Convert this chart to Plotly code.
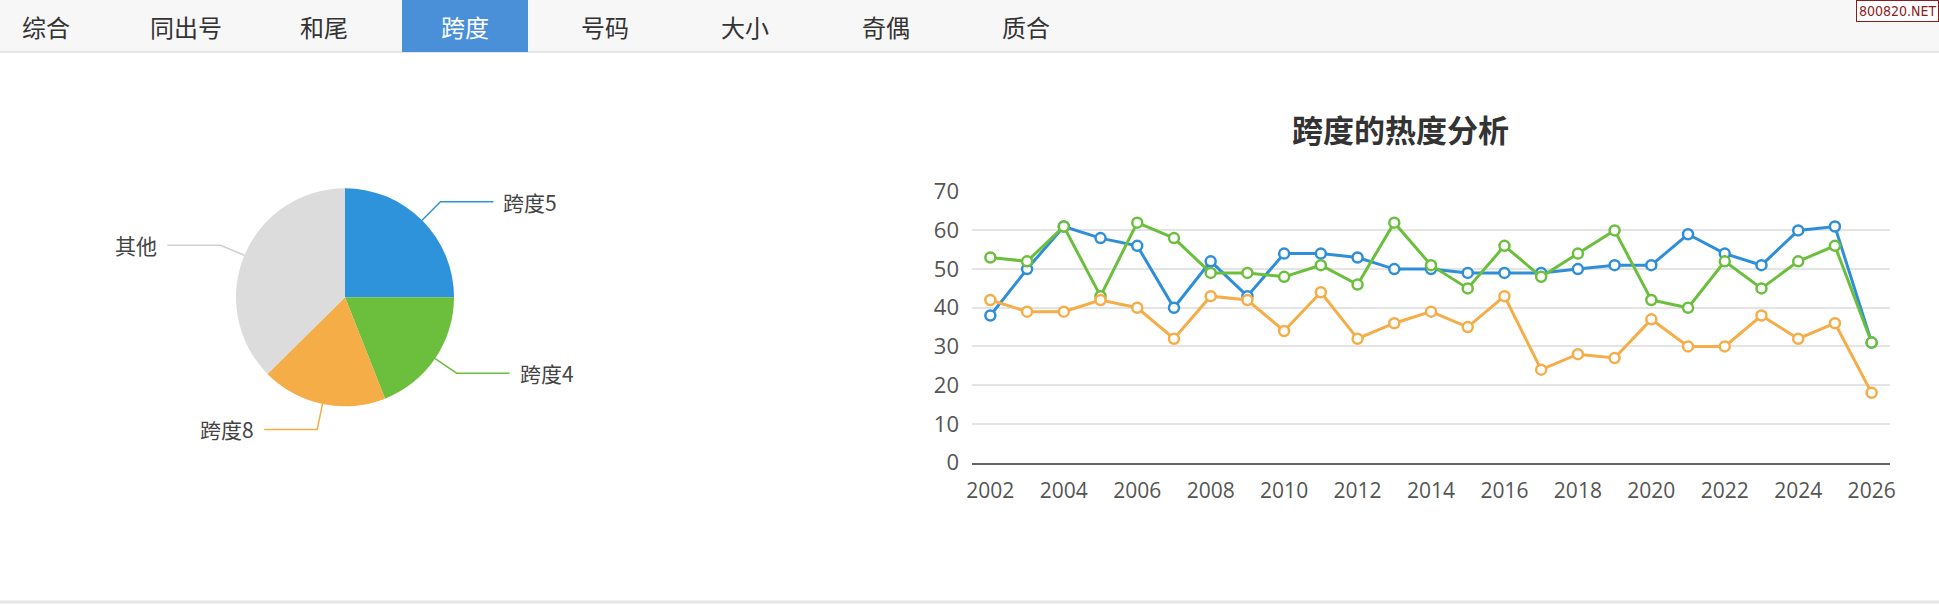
import math
import plotly.graph_objects as go

W, H = 1939, 605

# ---------------- data ----------------
tabs = ["综合", "同出号", "和尾", "跨度", "号码", "大小", "奇偶", "质合"]
active_tab = "跨度"

pie_labels = ["跨度5", "跨度4", "跨度8", "其他"]
pie_values = [25.0, 19.0, 18.6, 37.4]
pie_colors = ["#2e93db", "#6bbf3c", "#f5ad48", "#dcdcdc"]

years = list(range(2002, 2027))
span5 = [38, 50, 61, 58, 56, 40, 52, 43, 54, 54, 53, 50, 50, 49, 49, 49, 50, 51, 51, 59, 54, 51, 60, 61, 31]
span4 = [53, 52, 61, 43, 62, 58, 49, 49, 48, 51, 46, 62, 51, 45, 56, 48, 54, 60, 42, 40, 52, 45, 52, 56, 31]
span8 = [42, 39, 39, 42, 40, 32, 43, 42, 34, 44, 32, 36, 39, 35, 43, 24, 28, 27, 37, 30, 30, 38, 32, 36, 18]
line_names = ["跨度5", "跨度4", "跨度8"]
line_colors = ["#2e8fd8", "#6bbf3c", "#f5ad48"]
xticks = list(range(2002, 2027, 2))
yticks = list(range(0, 71, 10))

title_text = "跨度的热度分析"
watermark = "800820.NET"

# ---------------- helpers ----------------
def px(x):
    return x / W

def py(y):
    return 1 - y / H

FONT = "Noto Sans CJK SC, Open Sans, sans-serif"
NUMFONT = "Open Sans, Noto Sans CJK SC, sans-serif"

fig = go.Figure()

# ---------------- pie ----------------
cx, cy, R = 345.0, 297.3, 109.0
fig.add_trace(go.Pie(
    labels=pie_labels, values=pie_values,
    marker=dict(colors=pie_colors, line=dict(width=0)),
    sort=False, direction="clockwise", rotation=0,
    textinfo="none", hoverinfo="label+percent",
    showlegend=False,
    domain=dict(x=[px(cx - R), px(cx + R)], y=[py(cy + R), py(cy - R)]),
))

shapes = []
annotations = []

# leader lines & labels computed from the slice angles
total = sum(pie_values)
cum = 0.0
L1, L2 = 26.0, 53.0
for lab, val, col in zip(pie_labels, pie_values, pie_colors):
    mid = (cum + val / 2) / total * 2 * math.pi
    cum += val
    sx, sy = math.sin(mid), -math.cos(mid)
    x0, y0 = cx + R * sx, cy + R * sy
    x1, y1 = cx + (R + L1) * sx, cy + (R + L1) * sy
    side = 1 if sx >= 0 else -1
    x2 = x1 + side * L2
    lc = "#d0d0d0" if col == "#dcdcdc" else col
    path = f"M {px(x0)},{py(y0)} L {px(x1)},{py(y1)} L {px(x2)},{py(y1)}"
    shapes.append(dict(type="path", xref="paper", yref="paper", path=path,
                       line=dict(color=lc, width=1.5)))
    annotations.append(dict(
        x=px(x2 + side * 8), y=py(y1), xref="paper", yref="paper",
        text=lab, showarrow=False,
        xanchor="left" if side > 0 else "right", yanchor="middle",
        font=dict(family=FONT, size=21, color="#444444"),
    ))

# ---------------- lines ----------------
for name, vals, col in zip(line_names, [span5, span4, span8], line_colors):
    fig.add_trace(go.Scatter(
        x=years, y=vals, name=name, mode="lines+markers",
        line=dict(color=col, width=3),
        marker=dict(symbol="circle", size=10, color="#ffffff",
                    line=dict(color=col, width=2.5)),
        showlegend=False, xaxis="x", yaxis="y",
    ))

# ---------------- tab bar ----------------
shapes.append(dict(type="rect", xref="paper", yref="paper",
                   x0=0, x1=1, y0=py(51), y1=1,
                   fillcolor="#f7f7f7", line=dict(width=0), layer="below"))
shapes.append(dict(type="line", xref="paper", yref="paper",
                   x0=0, x1=1, y0=py(52), y1=py(52),
                   line=dict(color="#e6e6e6", width=2)))
tab_centers = [46, 186, 324, 465, 605, 745, 886, 1026]
for t, c in zip(tabs, tab_centers):
    if t == active_tab:
        shapes.append(dict(type="rect", xref="paper", yref="paper",
                           x0=px(402), x1=px(528), y0=py(52), y1=1,
                           fillcolor="#4a90d9", line=dict(width=0)))
    annotations.append(dict(
        x=px(c), y=py(27), xref="paper", yref="paper", text=t,
        showarrow=False, xanchor="center", yanchor="middle",
        font=dict(family=FONT, size=24,
                  color="#ffffff" if t == active_tab else "#333333"),
    ))

# watermark
annotations.append(dict(
    x=1, y=1, xref="paper", yref="paper", text=watermark, showarrow=False,
    xanchor="right", yanchor="top",
    font=dict(family="Liberation Sans Narrow, DejaVu Sans Condensed, sans-serif",
              size=14, color="#8b1c1c"),
    bgcolor="#ffffff", bordercolor="#8b1c1c", borderwidth=1, borderpad=2,
))

# title
annotations.append(dict(
    x=px(1400), y=py(128), xref="paper", yref="paper",
    text="<b>" + title_text + "</b>", showarrow=False,
    xanchor="center", yanchor="middle",
    font=dict(family=FONT, size=31, color="#333333"),
))

# bottom border
shapes.append(dict(type="line", xref="paper", yref="paper",
                   x0=0, x1=1, y0=py(602), y1=py(602),
                   line=dict(color="#e6e6e6", width=3)))

fig.update_layout(
    width=W, height=H,
    margin=dict(l=0, r=0, t=0, b=0, pad=0, autoexpand=False),
    paper_bgcolor="#ffffff", plot_bgcolor="#ffffff",
    xaxis=dict(
        domain=[px(972), px(1890)], range=[2001.5, 2026.5],
        tickvals=xticks, ticktext=[str(v) for v in xticks],
        showgrid=False, zeroline=False,
        showline=True, linecolor="#666666", linewidth=2,
        ticks="", ticklabelstandoff=8, automargin=False,
        tickfont=dict(family=NUMFONT, size=21, color="#555555"),
        fixedrange=True,
    ),
    yaxis=dict(
        domain=[py(462.5), py(191.7)], range=[0, 70],
        tickvals=yticks, showgrid=True, gridcolor="#e4e4e4", gridwidth=1.5,
        zeroline=False, showline=False, ticks="", ticklabelstandoff=12,
        automargin=False,
        tickfont=dict(family=NUMFONT, size=22, color="#555555"),
        fixedrange=True,
    ),
    shapes=shapes,
    annotations=annotations,
)

fig.write_html(
    "out.html",
    config={"displayModeBar": False},
    post_script="document.body.style.margin='0';document.body.style.overflow='hidden';",
)
